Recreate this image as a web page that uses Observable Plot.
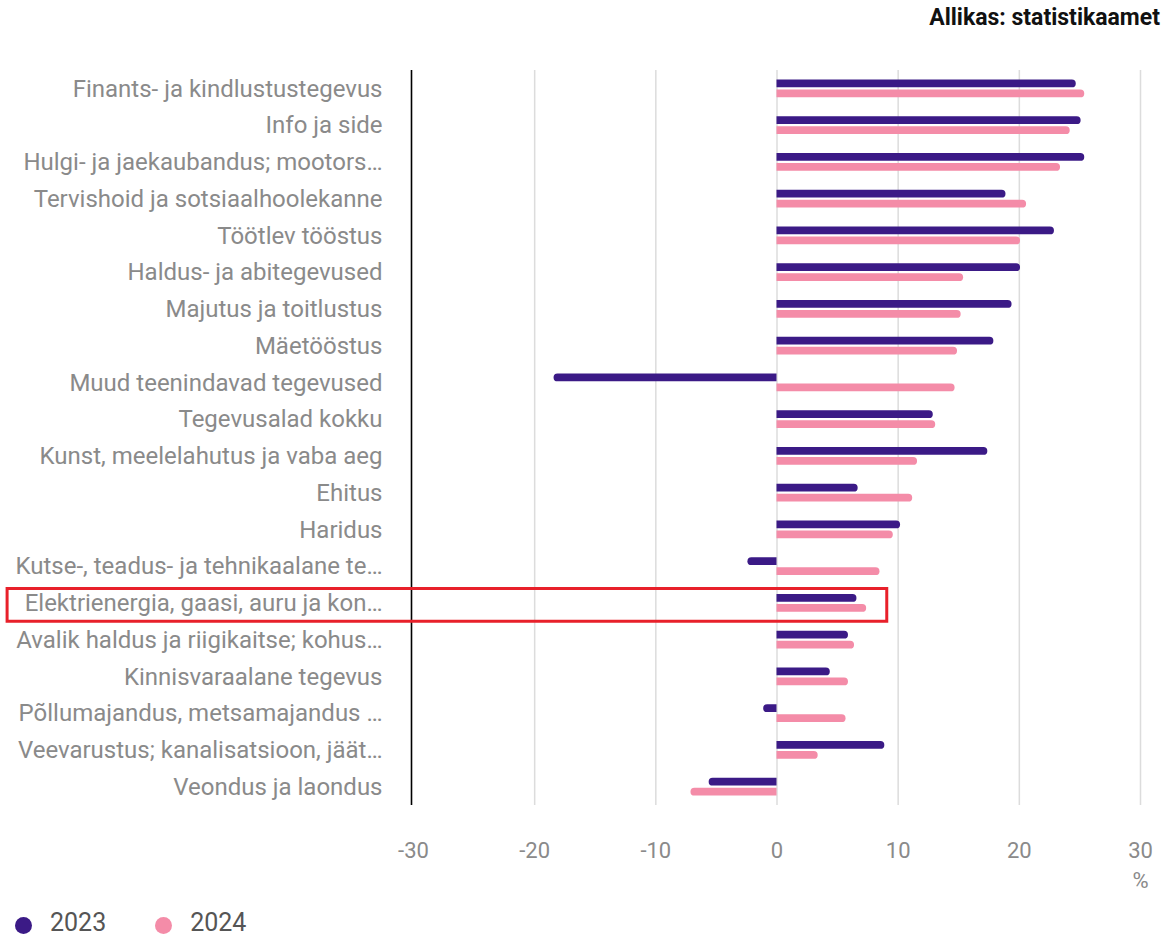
<!DOCTYPE html>
<html>
<head>
<meta charset="utf-8">
<script src="https://cdn.jsdelivr.net/npm/d3@7"></script>
<script src="https://cdn.jsdelivr.net/npm/@observablehq/plot@0.6"></script>
<style>
  html, body { margin: 0; padding: 0; background: #fff; }
  body { width: 1169px; height: 936px; font-family: Roboto, "Noto Sans", sans-serif; position: relative; overflow: hidden; }
  #title { position: absolute; top: 4px; right: 9px; font-size: 23px; font-weight: 700; color: #111; }
  #chart { position: absolute; top: 50px; left: 0; }
  #legend { position: absolute; top: 906px; left: 15px; height: 32px; display: flex; align-items: center; font-size: 25px; color: #555; }
  .item { display: flex; align-items: center; margin-right: 49px; }
  .dot { width: 17px; height: 17px; border-radius: 50%; margin-right: 18px; margin-top: 6px; }
</style>
</head>
<body>
<div id="title">Allikas: statistikaamet</div>
<div id="chart"></div>
<div id="legend"></div>
<script>
const categories = [
  "Finants- ja kindlustustegevus",
  "Info ja side",
  "Hulgi- ja jaekaubandus; mootors…",
  "Tervishoid ja sotsiaalhoolekanne",
  "Töötlev tööstus",
  "Haldus- ja abitegevused",
  "Majutus ja toitlustus",
  "Mäetööstus",
  "Muud teenindavad tegevused",
  "Tegevusalad kokku",
  "Kunst, meelelahutus ja vaba aeg",
  "Ehitus",
  "Haridus",
  "Kutse-, teadus- ja tehnikaalane te…",
  "Elektrienergia, gaasi, auru ja kon…",
  "Avalik haldus ja riigikaitse; kohus…",
  "Kinnisvaraalane tegevus",
  "Põllumajandus, metsamajandus …",
  "Veevarustus; kanalisatsioon, jäät…",
  "Veondus ja laondus"
];
const values2023 = [24.7, 25.1, 25.4, 18.9, 22.9, 20.1, 19.4, 17.9, -18.4, 12.9, 17.4, 6.7, 10.2, -2.4, 6.6, 5.9, 4.4, -1.1, 8.9, -5.6];
const values2024 = [25.4, 24.2, 23.4, 20.6, 20.1, 15.4, 15.2, 14.9, 14.7, 13.1, 11.6, 11.2, 9.6, 8.5, 7.4, 6.4, 5.9, 5.7, 3.4, -7.1];
const series = ["2023", "2024"];
const seriesColors = ["#3b1a86", "#f48ca8"];
const xTicks = [-30, -20, -10, 0, 10, 20, 30];
const gridTicks = [-20, -10, 0, 10, 20, 30];
const highlighted = ["Elektrienergia, gaasi, auru ja kon…"];
const highlightExtent = [-63.5, 9.1];

const d23 = categories.map((c, i) => ({cat: c, v: values2023[i]}));
const d24 = categories.map((c, i) => ({cat: c, v: values2024[i]}));
const hl = highlighted.map(c => ({cat: c, x1: highlightExtent[0], x2: highlightExtent[1]}));

const ver = String(Plot.version || "0.6.0").split(".").map(Number);
const hasCorners = ver[0] > 0 || ver[1] > 6 || (ver[1] === 6 && ver[2] >= 12);

function seriesBars(data, color, top, bottom) {
  const pos = data.filter(d => d.v >= 0);
  const neg = data.filter(d => d.v < 0);
  const base = { y: "cat", x1: 0, x2: "v", fill: color, insetTop: top, insetBottom: bottom };
  if (hasCorners) {
    return [
      Plot.barX(pos, { ...base, rx2y1: 4, rx2y2: 4 }),
      Plot.barX(neg, { ...base, rx1y1: 4, rx1y2: 4 })
    ];
  }
  return [
    Plot.barX(data, { ...base, rx: 4 }),
    Plot.barX(data, { ...base, x2: d => d.v / 2 })
  ];
}

const chart = Plot.plot({
  width: 1169,
  height: 848,
  marginTop: 20,
  marginBottom: 93,
  marginLeft: 413,
  marginRight: 29,
  style: { fontFamily: "Roboto, 'Noto Sans', sans-serif", fontSize: "22px", color: "#8a8a8a", background: "#fff" },
  x: { domain: [-30, 30] },
  y: { domain: categories, padding: 0, round: false },
  marks: [
    Plot.ruleX(gridTicks, { stroke: "#dcdcdc", strokeWidth: 1.5 }),
    Plot.ruleX([-30], { stroke: "#000", strokeWidth: 1.6, dx: -2 }),
    ...seriesBars(d23, seriesColors[0], 9.4, 19.4),
    ...seriesBars(d24, seriesColors[1], 19.4, 9.4),
    Plot.axisY({ tickSize: 0, tickPadding: 31, fontSize: 24, fill: "#8a8a8a", label: null }),
    Plot.axisX(xTicks, { tickSize: 0, tickPadding: 37, fontSize: 22, fill: "#8a8a8a", label: null, tickFormat: d => String(d) }),
    Plot.text(["%"], { x: 30, frameAnchor: "bottom", dy: 82, fontSize: 22, fill: "#8a8a8a" }),
    Plot.barX(hl, { y: "cat", x1: "x1", x2: "x2", fill: "none", stroke: "#e8202a", strokeWidth: 3, insetTop: 4, insetBottom: 0, clip: false })
  ]
});
document.getElementById("chart").appendChild(chart);

const legend = document.getElementById("legend");
series.forEach((s, i) => {
  const item = document.createElement("div");
  item.className = "item";
  const dot = document.createElement("span");
  dot.className = "dot";
  dot.style.background = seriesColors[i];
  const label = document.createElement("span");
  label.textContent = s;
  item.appendChild(dot);
  item.appendChild(label);
  legend.appendChild(item);
});
</script>
</body>
</html>
